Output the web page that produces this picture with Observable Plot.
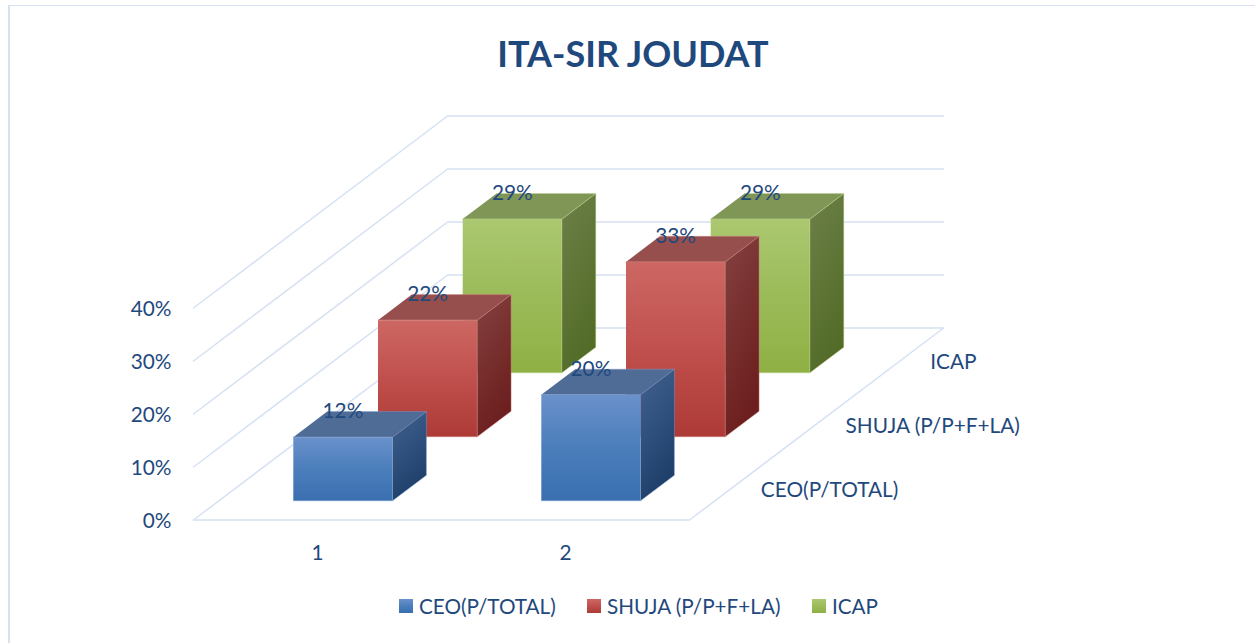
<!DOCTYPE html>
<html>
<head>
<meta charset="utf-8">
<script src="https://cdn.jsdelivr.net/npm/d3@7"></script>
<script src="https://cdn.jsdelivr.net/npm/@observablehq/plot@0.6"></script>
<style>
  html, body { margin: 0; padding: 0; background: #fff; overflow: hidden; }
  body { font-family: Lato, "Noto Sans", sans-serif; color: #1f497d; }
  #page { position: relative; width: 1255px; height: 643px; }
  #frame { position: absolute; left: 8px; top: 5px; right: 0; bottom: 0;
           border-left: 2px solid #d7e1f1; border-top: 1px solid #d7e1f1; pointer-events: none; }
  #title { height: 100px; box-sizing: border-box; padding: 26px 0 0 11px; text-align: center;
           font-size: 36px; line-height: 54px; font-weight: 700; color: #1f497d; }
  #chart svg { display: block; }
  #legend { display: flex; height: 73px; box-sizing: border-box; padding: 24px 0 0 399px;
            font-size: 20.7px; line-height: 26px; color: #1f497d; }
  #legend { padding-top: 24px; margin-top: -13px; }
  .item { display: flex; align-items: center; white-space: nowrap; }
  .swatch { width: 14px; height: 14px; margin-right: 6px; flex: none; }
</style>
</head>
<body>
<div id="page">
  <div id="frame"></div>
  <div id="title"></div>
  <div id="chart"></div>
  <div id="legend"></div>
</div>
<script>
const chartTitle = "ITA-SIR JOUDAT";
const categories = ["1", "2"];
const seriesNames = ["CEO(P/TOTAL)", "SHUJA (P/P+F+LA)", "ICAP"];
const ceoValues = [12, 20];
const shujaValues = [22, 33];
const icapValues = [29, 29];
const percentTicks = [0, 10, 20, 30, 40];

// Look of each series: front gradient, top colour, side gradient
const seriesValues = [ceoValues, shujaValues, icapValues];
const seriesIds = ["blue", "red", "green"];
const frontStops = [["#6a91cb", "#4a7ebb", "#3a6fb0"], ["#cd6763", "#c0504d", "#ad3a36"], ["#abc870", "#9bbb59", "#8fb044"]];
const topColors = ["#4f6c96", "#964f4d", "#7f9657"];
const sideStops = [["#41618f", "#1f3f6b"], ["#844140", "#6c1f1e"], ["#6d8049", "#536c28"]];
const edgeColors = ["#7f9fcf", "#d58a87", "#bcd48a"];

// Oblique projection: one series step in depth moves this many category units and percent points
const depthX = 84.7 / 248, depthY = 64 / 5.3;
const project = (c, s, v) => ({x: c + s * depthX, y: v + s * depthY});

const barHalf = 0.2, depthNear = 0.3, depthFar = 0.7;

function barFaces(cat, s) {
  const c = cat + 0.5, v = seriesValues[s][cat];
  const n = s + depthNear, f = s + depthFar, l = c - barHalf, r = c + barHalf;
  return {
    front: [project(l, n, 0), project(r, n, 0), project(r, n, v), project(l, n, v)],
    top: [project(l, n, v), project(r, n, v), project(r, f, v), project(l, f, v)],
    side: [project(r, n, 0), project(r, f, 0), project(r, f, v), project(r, n, v)]
  };
}

const gridColor = "#d6e1f2";
const gridMarks = [];
percentTicks.forEach(v => {
  gridMarks.push(Plot.line([project(0, 0, v), project(0, 3, v), project(2, 3, v)],
    {x: "x", y: "y", stroke: gridColor, strokeWidth: 1.5}));
});
gridMarks.push(Plot.line([project(0, 0, 0), project(2, 0, 0), project(2, 3, 0)],
  {x: "x", y: "y", stroke: gridColor, strokeWidth: 1.5}));

const defsMark = () => {
  const defs = d3.create("svg:defs");
  seriesIds.forEach((id, s) => {
    const g = defs.append("linearGradient").attr("id", "front-" + id)
      .attr("x1", 0).attr("y1", 0).attr("x2", 0).attr("y2", 1);
    frontStops[s].forEach((col, i) => g.append("stop").attr("offset", i / 2).attr("stop-color", col));
    const h = defs.append("linearGradient").attr("id", "side-" + id)
      .attr("x1", 0).attr("y1", 0).attr("x2", 0.35).attr("y2", 1);
    sideStops[s].forEach((col, i) => h.append("stop").attr("offset", i).attr("stop-color", col));
  });
  return defs.node();
};

const barMarks = [];
[2, 1, 0].forEach(s => {
  categories.forEach((_, cat) => {
    const faces = barFaces(cat, s);
    const opts = fill => ({x: "x", y: "y", fill, stroke: edgeColors[s], strokeWidth: 0.8, strokeOpacity: 0.55});
    barMarks.push(Plot.line(faces.side, opts(`url(#side-${seriesIds[s]})`)));
    barMarks.push(Plot.line(faces.top, opts(topColors[s])));
    barMarks.push(Plot.line(faces.front, opts(`url(#front-${seriesIds[s]})`)));
  });
});

// Value labels sit above the centre of the front face, level with the back edge of the top
const valueLabels = [];
seriesValues.forEach((vals, s) => vals.forEach((v, cat) => {
  const front = project(cat + 0.5, s + depthNear, v);
  const back = project(cat + 0.5, s + depthFar, v);
  valueLabels.push({x: front.x, y: back.y, label: v + "%"});
}));

const textColor = "#1f497d", fontSize = 20.8;
const plot = Plot.plot({
  width: 1255,
  height: 470,
  marginLeft: 193,
  marginRight: 566,
  marginTop: 207.5,
  marginBottom: 50.5,
  style: {background: "transparent", fontFamily: "Lato, 'Noto Sans', sans-serif", overflow: "visible"},
  x: {domain: [0, 2], axis: null},
  y: {domain: [0, 40], axis: null},
  marks: [
    defsMark,
    ...gridMarks,
    ...barMarks,
    Plot.text(valueLabels, {x: "x", y: "y", text: "label", fill: textColor, fontSize}),
    Plot.text(percentTicks, {x: () => 0, y: d => d, text: d => d + "%", textAnchor: "end", dx: -22, dy: 1, fill: textColor, fontSize}),
    Plot.text(categories, {x: (d, i) => i + 0.5, y: () => 0, text: d => d, dy: 33, fill: textColor, fontSize}),
    Plot.text(seriesNames, {
      x: (d, i) => project(2, i + 0.5, 0).x,
      y: (d, i) => project(2, i + 0.5, 0).y,
      text: d => d, textAnchor: "start", dx: 29, dy: 2.5, fill: textColor, fontSize
    })
  ]
});

document.getElementById("title").textContent = chartTitle;
document.getElementById("chart").appendChild(plot);

const itemWidths = [188, 225, 70];
const legend = d3.select("#legend");
seriesNames.forEach((name, s) => {
  const item = legend.append("div").attr("class", "item").style("width", itemWidths[s] + "px");
  item.append("span").attr("class", "swatch")
    .style("background", `linear-gradient(${frontStops[s].join(",")})`);
  item.append("span").text(name);
});
</script>
</body>
</html>
